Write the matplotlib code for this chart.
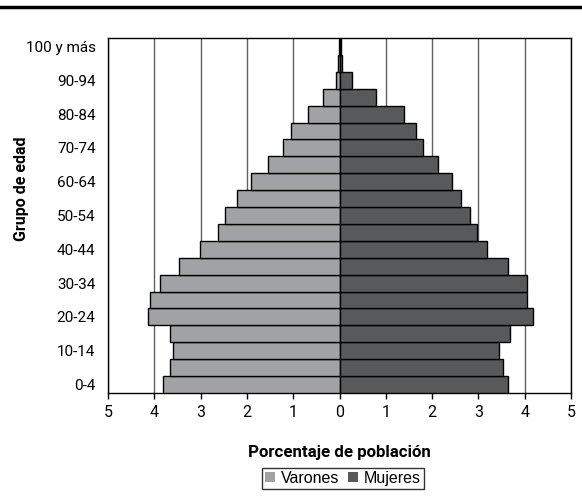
import numpy as np
import matplotlib.pyplot as plt
from matplotlib.lines import Line2D
from matplotlib.patches import Patch

# Datos (porcentaje de población por grupo de edad)
grupos = ['0-4', '5-9', '10-14', '15-19', '20-24', '25-29', '30-34', '35-39',
          '40-44', '45-49', '50-54', '55-59', '60-64', '65-69', '70-74',
          '75-79', '80-84', '85-89', '90-94', '95-99', '100 y más']
varones = [3.82, 3.66, 3.60, 3.66, 4.14, 4.09, 3.87, 3.47, 3.02, 2.62, 2.48,
           2.22, 1.92, 1.55, 1.23, 1.04, 0.67, 0.35, 0.08, 0.03, 0.02]
mujeres = [3.63, 3.53, 3.44, 3.69, 4.17, 4.04, 4.04, 3.63, 3.18, 2.96, 2.81,
           2.62, 2.43, 2.12, 1.81, 1.65, 1.39, 0.78, 0.27, 0.05, 0.03]
xticks = [-5, -4, -3, -2, -1, 0, 1, 2, 3, 4, 5]

fuente = ['Roboto', 'DejaVu Sans']
c_var = '#a1a2a5'
c_muj = '#58595b'

fig = plt.figure(figsize=(5.82, 4.98), dpi=100)
ax = fig.add_axes([0.1856, 0.211, 0.7955, 0.7125])

y = np.arange(len(grupos))
ax.barh(y, -np.array(varones), height=1.0, color=c_var, edgecolor='black',
        linewidth=1, zorder=3, label='Varones')
ax.barh(y, mujeres, height=1.0, color=c_muj, edgecolor='black',
        linewidth=1, zorder=3, label='Mujeres')

ax.set_xlim(-5, 5)
ax.set_ylim(-0.5, len(grupos) - 0.5)
for v in xticks:
    ax.axvline(v, color='#606060', linewidth=1, zorder=1)

ax.set_xticks(xticks)
ax.set_xticklabels([str(abs(v)) for v in xticks], fontsize=11.5, family=fuente)
ax.set_yticks(y[::2])
ax.set_yticklabels(grupos[::2], fontsize=11, family=fuente)
ax.tick_params(axis='x', direction='out', length=4, width=1, pad=5)
ax.tick_params(axis='y', length=0, pad=9)
for s in ax.spines.values():
    s.set_linewidth(1)

ax.set_xlabel('Porcentaje de población', fontsize=12.2, fontweight='bold',
              family=fuente, labelpad=18)
fig.text(22 / 582, 1 - 189 / 498, 'Grupo de edad', rotation=90,
         ha='center', va='center', fontsize=11.5, fontweight='bold',
         family=fuente)

handles = [Patch(facecolor=c_var, edgecolor='none'),
           Patch(facecolor=c_muj, edgecolor='none')]
leg = fig.legend(handles, ['Varones', 'Mujeres'], loc='lower center',
                 bbox_to_anchor=(343 / 582, 1 / 498), ncol=2,
                 frameon=True, fancybox=False, edgecolor='black',
                 handlelength=0.6, handleheight=0.6, handletextpad=0.35,
                 columnspacing=0.6, borderpad=0.2,
                 prop={'family': 'Liberation Sans', 'size': 11.5})
leg.get_frame().set_linewidth(1)

# linea superior
fig.add_artist(Line2D([0, 1], [0.985, 0.985], color='black', linewidth=2.5,
                      transform=fig.transFigure))

fig.savefig('out.png', dpi=100)
